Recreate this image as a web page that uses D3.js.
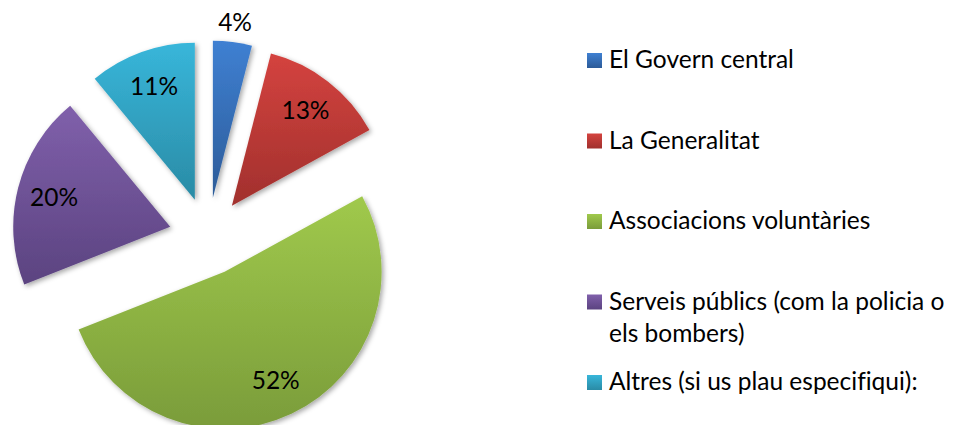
<!DOCTYPE html>
<html>
<head>
<meta charset="utf-8">
<script src="https://cdn.jsdelivr.net/npm/d3@7"></script>
<style>
  body { margin: 0; background: #fff; }
  svg { display: block; font-family: Lato, "Open Sans", sans-serif; font-variant-ligatures: none; }
</style>
</head>
<body>
<script>
var categories = ['El Govern central', 'La Generalitat', 'Associacions voluntàries',
  'Serveis públics (com la policia o els bombers)', 'Altres (si us plau especifiqui):'];
var values = [4, 13, 52, 20, 11];
var pctLabels = ['4%', '13%', '52%', '20%', '11%'];
var colorsTop = ['#3f80d2', '#d4433f', '#a0c94c', '#8060ab', '#38b6da'];
var colorsBottom = ['#2c5b98', '#a1302d', '#7a9c3a', '#5b4380', '#2a8ba5'];

var width = 956, height = 425;
var cx = 208, cy = 236.5;
var radius = 157;
var explode = 39;
var fontSize = 24.5;

var svg = d3.select('body').append('svg')
  .attr('width', width)
  .attr('height', height);

var defs = svg.append('defs');
categories.forEach(function(c, i) {
  var g = defs.append('linearGradient')
    .attr('id', 'grad' + i)
    .attr('x1', 0).attr('y1', 0).attr('x2', 0).attr('y2', 1);
  g.append('stop').attr('offset', '0%').attr('stop-color', colorsTop[i]);
  g.append('stop').attr('offset', '100%').attr('stop-color', colorsBottom[i]);
});
defs.append('filter').attr('id', 'shadow')
  .attr('x', '-20%').attr('y', '-20%').attr('width', '140%').attr('height', '140%')
  .append('feDropShadow')
  .attr('dx', 2).attr('dy', 2).attr('stdDeviation', 2.5)
  .attr('flood-color', '#000').attr('flood-opacity', 0.35);

var pie = d3.pie().sort(null).value(function(d) { return d; });
var arcs = pie(values);
var arc = d3.arc().innerRadius(0).outerRadius(radius);
var labelArc = d3.arc().innerRadius(120).outerRadius(120);
var outsideArc = d3.arc().innerRadius(177).outerRadius(177);

function offset(d) {
  var a = (d.startAngle + d.endAngle) / 2;
  return [explode * Math.sin(a), -explode * Math.cos(a)];
}

var grouping = svg.append('g')
  .attr('transform', 'translate(' + cx + ',' + cy + ')');

var slice = grouping.selectAll('g.slice').data(arcs)
  .enter().append('g')
  .attr('class', 'slice')
  .attr('transform', function(d) {
    var o = offset(d);
    return 'translate(' + o[0] + ',' + o[1] + ')';
  });

slice.append('path')
  .attr('d', arc)
  .attr('fill', function(d) { return 'url(#grad' + d.index + ')'; })
  .attr('filter', 'url(#shadow)');

// small slices get their label outside
slice.append('text')
  .attr('transform', function(d) {
    var p = d.data < 5 ? outsideArc.centroid(d) : labelArc.centroid(d);
    return 'translate(' + p[0] + ',' + p[1] + ')';
  })
  .attr('text-anchor', 'middle')
  .attr('dy', '0.35em')
  .attr('font-size', fontSize)
  .attr('fill', '#000')
  .text(function(d) { return pctLabels[d.index]; });

// legend
var legendY = d3.scalePoint().domain(categories).range([53, 375]);
var legend = svg.append('g').attr('transform', 'translate(587,0)');
var item = legend.selectAll('g').data(categories)
  .enter().append('g')
  .attr('transform', function(d) { return 'translate(0,' + legendY(d) + ')'; });

item.append('rect')
  .attr('width', 15).attr('height', 15)
  .attr('fill', function(d, i) { return 'url(#grad' + i + ')'; });

item.append('text')
  .attr('x', 22)
  .attr('y', 15)
  .attr('font-size', fontSize)
  .attr('fill', '#000')
  .each(function(d) {
    var t = d3.select(this);
    var words = d.split(' ');
    var line = [];
    var lineNo = 0;
    var tspan = t.append('tspan').attr('x', 22).attr('y', 15);
    words.forEach(function(w) {
      line.push(w);
      tspan.text(line.join(' '));
      if (tspan.node().getComputedTextLength() > 345 && line.length > 1) {
        line.pop();
        tspan.text(line.join(' '));
        line = [w];
        lineNo++;
        tspan = t.append('tspan').attr('x', 22).attr('y', 15 + lineNo * 32).text(w);
      }
    });
  });
</script>
</body>
</html>
